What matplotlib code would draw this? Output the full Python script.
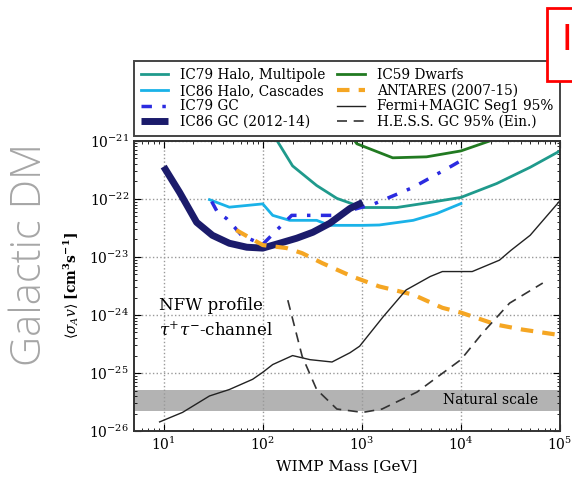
import matplotlib.pyplot as plt
from matplotlib.patches import Rectangle

plt.rcParams["font.family"] = "DejaVu Serif"
plt.rcParams["mathtext.fontset"] = "dejavuserif"

# IC86 GC (2012-14)
ic86gc_m = [10, 14.5, 21.5, 31, 46, 69, 100, 148, 220, 320, 475, 760, 1020]
ic86gc_sv = [3.6e-22, 1.29e-22, 3.95e-23, 2.36e-23, 1.72e-23, 1.47e-23, 1.42e-23,
             1.72e-23, 2.1e-23, 2.66e-23, 3.8e-23, 6.85e-23, 8.7e-23]

# IC79 GC
ic79gc_m = [30.5, 35, 43, 52, 61, 93, 100, 138, 196, 509, 1350, 3270, 8100, 10000]
ic79gc_sv = [9.0e-23, 5.85e-23, 4.6e-23, 3.24e-23, 2.36e-23, 1.72e-23, 1.65e-23,
             2.88e-23, 5.2e-23, 5.2e-23, 8.3e-23, 1.57e-22, 3.7e-22, 4.55e-22]

# IC86 Halo, Cascades
casc_m = [29, 46, 100, 126, 187, 350, 475, 1020, 1500, 3300, 5700, 10000]
casc_sv = [9.7e-23, 7.2e-23, 8.2e-23, 5.2e-23, 4.27e-23, 4.27e-23, 3.5e-23,
           3.5e-23, 3.55e-23, 4.27e-23, 5.6e-23, 8.3e-23]

# IC79 Halo, Multipole
multi_m = [135, 200, 350, 560, 1020, 2250, 4900, 10000, 23000, 50000, 100000]
multi_sv = [1.1e-21, 3.7e-22, 1.7e-22, 1.02e-22, 7.1e-23, 7.1e-23, 8.7e-23,
            1.06e-22, 1.84e-22, 3.5e-22, 6.7e-22]

# IC59 Dwarfs
dwarf_m = [800, 890, 2050, 4500, 10000, 19700, 21000]
dwarf_sv = [1.15e-21, 8.9e-22, 5.1e-22, 5.3e-22, 6.7e-22, 1.0e-21, 1.1e-21]

# ANTARES (2007-15)
antares_m = [54, 100, 174, 250, 400, 800, 1500, 3300, 6500, 10000, 23000, 42000, 100000]
antares_sv = [2.9e-23, 1.6e-23, 1.42e-23, 1.16e-23, 7.8e-24, 4.6e-24, 3.1e-24,
              2.24e-24, 1.33e-24, 1.1e-24, 6.8e-25, 5.6e-25, 4.5e-25]

# Fermi+MAGIC Seg1 95%
fermi_m = [9.1, 15.5, 29, 46, 79, 100, 126, 200, 300, 500, 760, 950, 1640, 2800,
           4900, 6500, 13000, 24500, 32000, 50000, 100000]
fermi_sv = [1.44e-26, 2.1e-26, 4.03e-26, 5.2e-26, 7.8e-26, 1.03e-25, 1.4e-25,
            2.0e-25, 1.7e-25, 1.55e-25, 2.24e-25, 2.9e-25, 9.3e-25, 2.7e-24,
            4.6e-24, 5.6e-24, 5.6e-24, 8.8e-24, 1.3e-23, 2.36e-23, 9.3e-23]

# H.E.S.S. GC 95% (Ein.)
hess_m = [179, 250, 350, 560, 1020, 1600, 3600, 10000, 16700, 31000, 67000]
hess_sv = [1.8e-24, 1.94e-25, 5.2e-26, 2.4e-26, 2.1e-26, 2.4e-26, 4.7e-26,
           1.7e-25, 5e-25, 1.6e-24, 3.55e-24]

natural_scale = (2.2e-26, 5.2e-26)

fig = plt.figure(figsize=(5.72, 4.79), dpi=100)
ax = fig.add_axes([0.234, 0.100, 0.745, 0.606])

ax.plot(multi_m, multi_sv, color="#1f9a8c", lw=2, label="IC79 Halo, Multipole")
ax.plot(casc_m, casc_sv, color="#1ab2e8", lw=2, label="IC86 Halo, Cascades")
ax.plot(ic79gc_m, ic79gc_sv, color="#2b2be0", lw=2.5, ls=(0, (3, 3, 1, 3)), label="IC79 GC")
ax.plot(ic86gc_m, ic86gc_sv, color="#1b1b6b", lw=5, solid_capstyle="butt", label="IC86 GC (2012-14)")
ax.plot(dwarf_m, dwarf_sv, color="#217a21", lw=2, label="IC59 Dwarfs")
ax.plot(antares_m, antares_sv, color="#f5a623", lw=3, ls=(0, (3, 2.2)), label="ANTARES (2007-15)")
ax.plot(fermi_m, fermi_sv, color="#222222", lw=1, label="Fermi+MAGIC Seg1 95%")
ax.plot(hess_m, hess_sv, color="#333333", lw=1.2, ls=(0, (6, 4)), label="H.E.S.S. GC 95% (Ein.)")

ax.axhspan(*natural_scale, color="#b3b3b3", lw=0, zorder=1.5)
ax.text(6e4, 3.4e-26, "Natural scale", ha="right", va="center", fontsize=10, zorder=3)

ax.text(9.0, 1.45e-24, "NFW profile", fontsize=12, ha="left", va="center")
ax.text(9.0, 5.6e-25, r"$\tau^{+}\tau^{-}$-channel", fontsize=12, ha="left", va="center")

ax.set_xscale("log")
ax.set_yscale("log")
ax.set_xlim(5, 1e5)
ax.set_ylim(1e-26, 1e-21)
ax.grid(True, which="major", ls=":", color="#999999", lw=1)
ax.tick_params(which="both", direction="in", top=True, right=True, labelsize=10)
ax.tick_params(which="major", length=5)
ax.tick_params(which="minor", length=2.5)
for s in ax.spines.values():
    s.set_linewidth(1.4)
    s.set_color("#333333")

ax.set_xlabel("WIMP Mass [GeV]", fontsize=11, labelpad=4)
ax.set_ylabel(r"$\langle\sigma_A v\rangle$ $\mathbf{[cm^3 s^{-1}]}$", fontsize=10, labelpad=6)

leg = ax.legend(ncol=2, loc="lower left", bbox_to_anchor=(0, 1.017, 1.0, 0.26),
                mode="expand", borderaxespad=0, fontsize=9.8, labelspacing=0.12,
                handlelength=2.0, handletextpad=0.9, borderpad=0.5,
                fancybox=False, framealpha=1)
leg.get_frame().set_edgecolor("#444444")
leg.get_frame().set_linewidth(1.4)

fig.text(30 / 572, 1 - 254 / 479, "Galactic DM", rotation=90, ha="center", va="center",
         fontsize=30, color="#a6a6a6", family="Open Sans", fontweight="light")

# red box in the top right corner
fig.add_artist(Rectangle((547 / 572, 1 - 81 / 479), 0.1, 73 / 479, transform=fig.transFigure,
                         facecolor="white", edgecolor="red", lw=2, zorder=10))
fig.text(1.0, 1 - 40 / 479, "I", color="red", fontsize=26, ha="right", va="center",
         family="DejaVu Sans", zorder=11)

fig.savefig("out.png", dpi=100)
